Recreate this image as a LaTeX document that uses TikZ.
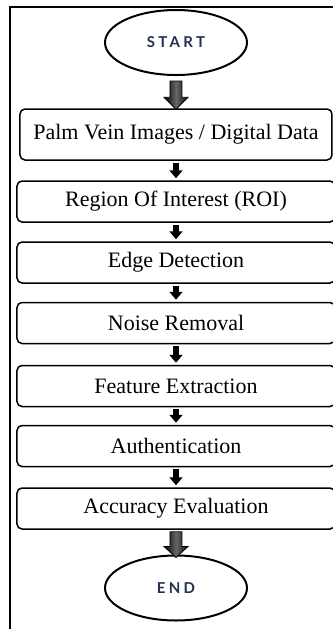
\documentclass[tikz,border=0pt]{standalone}
\usepackage{fontspec}
\setmainfont{Liberation Serif}
\newfontfamily\termfont[LetterSpace=22]{Lato}
\usepackage{tikz}
\usetikzlibrary{shapes.geometric}
\usetikzlibrary{arrows.meta}
\usetikzlibrary{calc}

\definecolor{termblue}{HTML}{22324C}

\tikzset{
  terminal/.style={ellipse, draw, line width=1pt, minimum width=71pt,
    minimum height=32.5pt, inner sep=0pt, text=termblue,
    font=\termfont\bfseries\fontsize{7.5}{8}\selectfont},
  stage/.style={rectangle, rounded corners=2.5pt, draw, line width=0.75pt,
    minimum width=159pt, minimum height=20.5pt,
    font=\fontsize{11}{13}\selectfont},
  stepline/.style={line width=3pt, -{Triangle[width=6.5pt,length=4pt]},
    shorten <=1pt, shorten >=1pt},
  fatarrow/.style={draw=black, line width=0.4pt, left color=black,
    right color=black!95, middle color=black!60},
  frame/.style={line width=1.25pt}
}

\begin{document}
\begin{tikzpicture}[x=0.5pt, y={(0,-0.5pt)}]
  \useasboundingbox (0,0) rectangle (333,629);
  \draw [frame] (10,640) |- (345,7);

  \node [terminal] (start) at (176,42.5) {START};
  \node [stage, minimum width=156pt, minimum height=25.5pt] (palm) at (176,134.5)
    {Palm Vein Images / Digital Data};
  \node [stage] (roi) at (176,201.5) {Region Of Interest (ROI)};
  \node [stage] (edge) at (176,262.5) {Edge Detection};
  \node [stage] (noise) at (176,323) {Noise Removal};
  \node [stage] (feature) at (176,386) {Feature Extraction};
  \node [stage] (auth) at (176,446) {Authentication};
  \node [stage] (accuracy) at (176,508.5) {Accuracy Evaluation};
  \node [terminal] (end) at (176,588) {END};

  % shaded arrows to and from the terminals
  \path [fatarrow] ($(start.south)+(-6,5)$) -- ($(palm.north)+(-6,-11)$)
    -- ($(palm.north)+(-12,-11)$) -- ($(palm.north)+(0,1)$)
    -- ($(palm.north)+(12,-11)$) -- ($(palm.north)+(6,-11)$)
    -- ($(start.south)+(6,5)$) -- cycle;
  \path [fatarrow] ($(accuracy.south)+(-6,2)$) -- ($(end.north)+(-6,-8)$)
    -- ($(end.north)+(-12,-8)$) -- ($(end.north)+(0,3)$)
    -- ($(end.north)+(12,-8)$) -- ($(end.north)+(6,-8)$)
    -- ($(accuracy.south)+(6,2)$) -- cycle;

  \foreach \a/\b in {palm/roi, roi/edge, edge/noise, noise/feature,
      feature/auth, auth/accuracy}
    \draw [stepline] (\a) -- (\b);
\end{tikzpicture}
\end{document}
